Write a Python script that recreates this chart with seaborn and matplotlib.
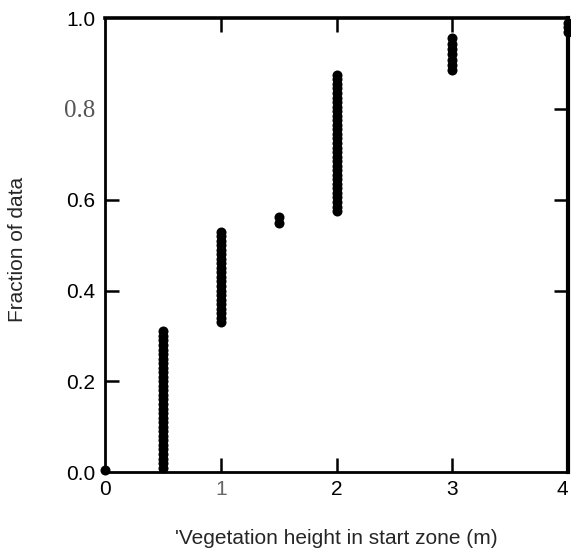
import numpy as np
import pandas as pd
import matplotlib
matplotlib.use("Agg")
import matplotlib.pyplot as plt
import seaborn as sns

# --- DATA ---
# vegetation height classes (m) and the cumulative fraction at each sample
HEIGHT_0 = [0.0]
FRAC_0 = [0.004]

HEIGHT_05 = 0.5
FRAC_05 = [0.01, 0.02, 0.03, 0.04, 0.05, 0.06, 0.07, 0.08, 0.09, 0.10,
           0.11, 0.12, 0.13, 0.14, 0.15, 0.16, 0.17, 0.18, 0.19, 0.20,
           0.21, 0.22, 0.23, 0.24, 0.25, 0.26, 0.27, 0.28, 0.29, 0.30, 0.31]

HEIGHT_1 = 1.0
FRAC_1 = [0.33, 0.34, 0.35, 0.36, 0.37, 0.38, 0.39, 0.40, 0.41, 0.42,
          0.43, 0.44, 0.45, 0.46, 0.47, 0.48, 0.49, 0.50, 0.51, 0.52, 0.53]

HEIGHT_15 = 1.5
FRAC_15 = [0.548, 0.562]

HEIGHT_2 = 2.0
FRAC_2 = [0.575, 0.585, 0.595, 0.605, 0.615, 0.625, 0.635, 0.645, 0.655, 0.665,
          0.675, 0.685, 0.695, 0.705, 0.715, 0.725, 0.735, 0.745, 0.755, 0.765,
          0.775, 0.785, 0.795, 0.805, 0.815, 0.825, 0.835, 0.845, 0.855, 0.865, 0.874]

HEIGHT_3 = 3.0
FRAC_3 = [0.886, 0.897, 0.908, 0.92, 0.932, 0.944, 0.956]

HEIGHT_4 = 4.0
FRAC_4 = [0.97, 0.98, 0.99]

X_TICKS = [0, 1, 2, 3, 4]
Y_TICKS = [0.0, 0.2, 0.4, 0.6, 0.8, 1.0]
Y_TICK_LABELS = ["0.0", "0.2", "0.4", "0.6", "0.8", "1.0"]


def build_frame():
    """Stack the height groups into one long table for seaborn."""
    groups = [
        (HEIGHT_0, FRAC_0),
        ([HEIGHT_05] * len(FRAC_05), FRAC_05),
        ([HEIGHT_1] * len(FRAC_1), FRAC_1),
        ([HEIGHT_15] * len(FRAC_15), FRAC_15),
        ([HEIGHT_2] * len(FRAC_2), FRAC_2),
        ([HEIGHT_3] * len(FRAC_3), FRAC_3),
        ([HEIGHT_4] * len(FRAC_4), FRAC_4),
    ]
    heights, fracs = [], []
    for h, f in groups:
        heights.extend(h)
        fracs.extend(f)
    return pd.DataFrame({"height": heights, "fraction": fracs})


df = build_frame()

sns.set_style("white")
plt.rcParams["font.family"] = ["Liberation Sans", "DejaVu Sans"]

fig = plt.figure(figsize=(5.71, 5.49), dpi=100)
ax = fig.add_axes([0.184, 0.140, 0.811, 0.827])

sns.scatterplot(data=df, x="height", y="fraction", ax=ax, color="black",
                s=52, edgecolor="black", linewidth=0, clip_on=False, legend=False)

ax.set_xlim(0, 4)
ax.set_ylim(0, 1.0)

ax.set_xticks(X_TICKS)
ax.set_xticklabels([str(t) for t in X_TICKS], fontsize=15)
ax.set_yticks(Y_TICKS)
ax.set_yticklabels(Y_TICK_LABELS, fontsize=15)

# seaborn's white style switches bottom/left ticks off, turn them back on
ax.tick_params(axis="both", direction="in", length=10, width=1.8,
               bottom=True, left=True, top=True, right=True, colors="black")
ax.tick_params(axis="y", pad=7)
ax.tick_params(axis="x", pad=6)

for side in ["left", "bottom", "top", "right"]:
    ax.spines[side].set_color("black")
ax.spines["left"].set_linewidth(2.0)
ax.spines["bottom"].set_linewidth(2.0)
ax.spines["top"].set_linewidth(2.6)
ax.spines["right"].set_linewidth(3.0)

ax.set_xlabel("'Vegetation height in start zone (m)", fontsize=15)
ax.xaxis.set_label_coords(0.5, -0.125)
ax.set_ylabel("Fraction of data", fontsize=15)
ax.yaxis.set_label_coords(-0.168, 0.49)

# draw once so the tick objects are final, then touch them up
fig.canvas.draw()
yt = ax.yaxis.get_major_ticks()
xt = ax.xaxis.get_major_ticks()

# the original only shows some of the inner ticks
for i in [0, 4, 5]:
    yt[i].tick1line.set_visible(False)
for i in [0, 1, 5]:
    yt[i].tick2line.set_visible(False)
for i in [0, 4]:
    xt[i].tick1line.set_visible(False)
    xt[i].tick2line.set_visible(False)

# the scanned original has a thin serif "0.8" and a light "1"
lbl08 = yt[4].label1
lbl08.set_fontfamily(["Liberation Serif", "DejaVu Serif"])
lbl08.set_color("#555555")
lbl08.set_fontsize(18)
xt[1].label1.set_color("#666666")
# keep the "4" inside the picture
xt[4].label1.set_horizontalalignment("right")

fig.savefig("out.png", dpi=100)
